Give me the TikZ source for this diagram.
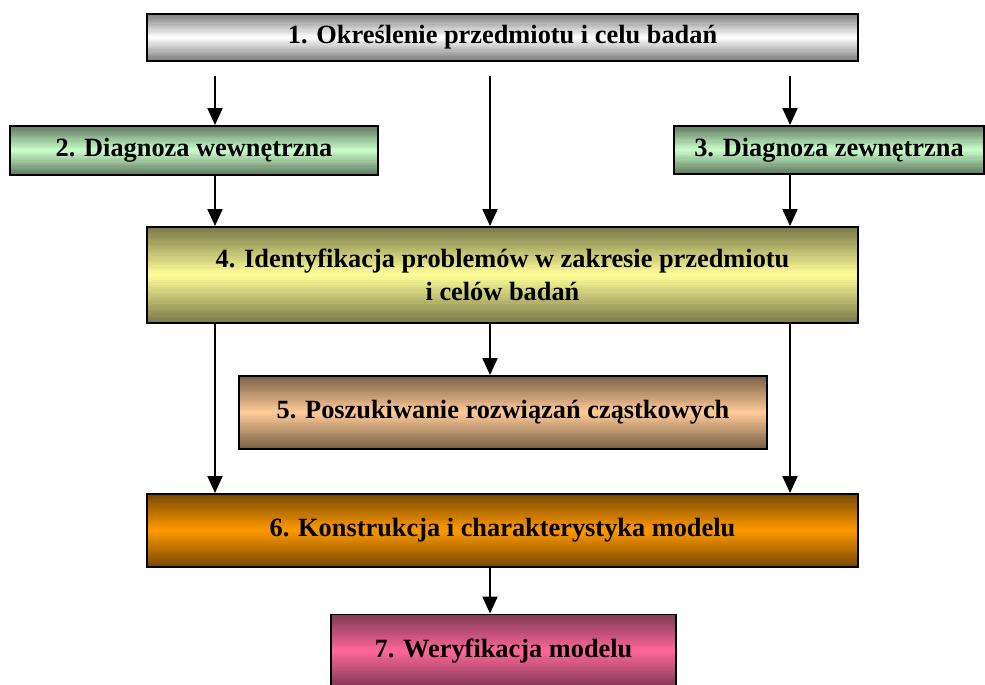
\documentclass[tikz,border=0pt]{standalone}
\usepackage{fontspec}
\setmainfont{Liberation Serif}
\usepackage{xcolor}
\usepackage{tikz}
\usetikzlibrary{arrows.meta, positioning, calc}

\definecolor{grayTop}{HTML}{7F7F7F}
\definecolor{greenTop}{HTML}{5F7A5F}
\definecolor{greenMid}{HTML}{CCFFCC}
\definecolor{yellowTop}{HTML}{7A7A4A}
\definecolor{yellowMid}{HTML}{FFFF99}
\definecolor{peachTop}{HTML}{7A6048}
\definecolor{peachMid}{HTML}{FFCC99}
\definecolor{orangeTop}{HTML}{7A4A00}
\definecolor{orangeMid}{HTML}{FF9900}
\definecolor{pinkTop}{HTML}{803A55}
\definecolor{pinkMid}{HTML}{FF6699}

\begin{document}
\begin{tikzpicture}[
        box/.style={rectangle, draw=black, line width=1.1pt, align=center, inner sep=0pt,
            font=\fontsize{15}{18.7}\selectfont\bfseries},
        % band gradient: dark at top and bottom, light in the middle
        grad/.style 2 args={path picture={
            \foreach \i in {0,...,39} {
                \pgfmathtruncatemacro{\pct}{100*abs(\i-19.5)/19.5}
                \fill[#1!\pct!#2]
                    ($(path picture bounding box.north west)!{\i/40}!(path picture bounding box.south west)$)
                    rectangle ($(path picture bounding box.north east)!{min(1,(\i+1.6)/40)}!(path picture bounding box.south east)$);
            }
        }},
        arrow/.style={line width=1.2pt, -{Triangle[width=0.3cm, length=0.34cm]}}
    ]
        \useasboundingbox (0,0) rectangle (19.7,13.68);

        % Boxes
        \node[box, grad={grayTop}{white}, minimum width=14.22cm, minimum height=0.94cm] (goal) at (10.05, 12.93) {1. Określenie przedmiotu i celu badań};
        \node[box, grad={greenTop}{greenMid}, minimum width=7.36cm, minimum height=0.98cm] (intdiag) at (3.88, 10.67) {2. Diagnoza wewnętrzna};
        \node[box, grad={greenTop}{greenMid}, minimum width=6.2cm, minimum height=0.96cm] (extdiag) at (16.58, 10.68) {3. Diagnoza zewnętrzna};
        \node[box, grad={yellowTop}{yellowMid}, minimum width=14.22cm, minimum height=1.92cm] (problems) at (10.05, 8.18) {4. Identyfikacja problemów w zakresie przedmiotu\\ i celów badań};
        \node[box, grad={peachTop}{peachMid}, minimum width=10.56cm, minimum height=1.46cm] (partial) at (10.06, 5.43) {5. Poszukiwanie rozwiązań cząstkowych};
        \node[box, grad={orangeTop}{orangeMid}, minimum width=14.22cm, minimum height=1.46cm] (model) at (10.05, 3.07) {6. Konstrukcja i charakterystyka modelu};
        \node[box, grad={pinkTop}{pinkMid}, minimum width=6.9cm, minimum height=1.46cm] (verify) at (10.07, 0.66) {7. Weryfikacja modelu};

        % Arrow columns
        \coordinate (cl) at (4.3, 0);
        \coordinate (cm) at (9.8, 0);
        \coordinate (cr) at (15.8, 0);

        % Arrows
        \draw[arrow, shorten <=0.28cm] (goal.south -| cl) -- (intdiag.north -| cl);
        \draw[arrow, shorten <=0.28cm] (goal.south -| cm) -- (problems.north -| cm);
        \draw[arrow, shorten <=0.28cm] (goal.south -| cr) -- (extdiag.north -| cr);
        \draw[arrow] (intdiag.south -| cl) -- (problems.north -| cl);
        \draw[arrow] (extdiag.south -| cr) -- (problems.north -| cr);
        \draw[arrow] (problems.south -| cm) -- (partial.north -| cm);
        \draw[arrow] (problems.south -| cl) -- (model.north -| cl);
        \draw[arrow] (problems.south -| cr) -- (model.north -| cr);
        \draw[arrow] (model.south -| cm) -- (verify.north -| cm);
    \end{tikzpicture}
\end{document}
